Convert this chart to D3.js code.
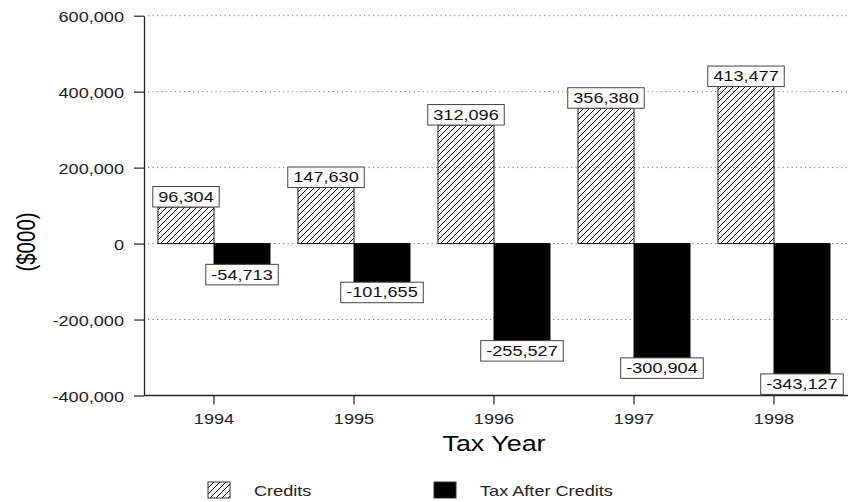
<!DOCTYPE html>
<html>
<head>
<meta charset="utf-8">
<script src="https://cdn.jsdelivr.net/npm/d3@7"></script>
<style>
  html, body { margin: 0; padding: 0; background: #fff; }
  svg { display: block; font-family: "Liberation Sans", Arial, sans-serif; }
</style>
</head>
<body>
<svg id="chart" width="848" height="502"></svg>
<script>
// ---- data ----
const years = ["1994", "1995", "1996", "1997", "1998"];
const credits = [96304, 147630, 312096, 356380, 413477];
const taxAfterCredits = [-54713, -101655, -255527, -300904, -343127];
const seriesNames = ["Credits", "Tax After Credits"];
const yTicks = [-400000, -200000, 0, 200000, 400000, 600000];
const xTitle = "Tax Year";
const yTitle = "($000)";

// ---- setup ----
const svg = d3.select("#chart");
const SX = 1.25; // horizontal text stretch of the original
const locale = d3.formatLocale({decimal: ".", thousands: ",", grouping: [3], currency: ["$", ""], minus: "-"});
const fmt = locale.format(",");

const left = 144, right = 844, gridRight = 848;
const x = d3.scaleBand().domain(years).range([left, right]).paddingInner(0.2).paddingOuter(0.1);
const x1 = d3.scaleBand().domain(seriesNames).range([0, x.bandwidth()]);
const y = d3.scaleLinear().domain([-400000, 600000]).range([395.5, 15.7]);

// hatch pattern
const defs = svg.append("defs");
const pat = defs.append("pattern").attr("id", "hatch").attr("patternUnits", "userSpaceOnUse")
  .attr("width", 6).attr("height", 6);
pat.append("path").attr("d", "M0,6 L6,0 M-1.5,1.5 L1.5,-1.5 M4.5,7.5 L7.5,4.5")
  .attr("stroke", "#000").attr("stroke-width", 1).attr("fill", "none");

// gridlines
svg.append("g").selectAll("line").data(yTicks.filter(d => d !== -400000)).join("line")
  .attr("x1", left + 4).attr("x2", gridRight)
  .attr("y1", d => y(d)).attr("y2", d => y(d))
  .attr("stroke", "#777").attr("stroke-width", 1).attr("stroke-dasharray", "1.2,3.3");

// bars
const rows = years.map((yr, i) => ({year: yr, values: [
  {key: seriesNames[0], v: credits[i]},
  {key: seriesNames[1], v: taxAfterCredits[i]}
]}));

const groups = svg.append("g").selectAll("g").data(rows).join("g")
  .attr("transform", d => `translate(${x(d.year)},0)`);

groups.selectAll("rect").data(d => d.values).join("rect")
  .attr("x", d => x1(d.key))
  .attr("width", x1.bandwidth())
  .attr("y", d => y(Math.max(0, d.v)))
  .attr("height", d => Math.abs(y(d.v) - y(0)))
  .attr("fill", d => d.key === seriesNames[0] ? "url(#hatch)" : "#000")
  .attr("stroke", d => d.key === seriesNames[0] ? "#111" : "#000")
  .attr("stroke-width", 1);

// axes
const yAxis = d3.axisLeft(y).tickValues(yTicks).tickFormat(fmt).tickSize(10).tickSizeOuter(0);
const gy = svg.append("g").attr("transform", `translate(${left},0)`).call(yAxis);
gy.select(".domain").attr("stroke", "#222").attr("stroke-width", 1.3);
gy.selectAll(".tick line").attr("stroke", "#222").attr("stroke-width", 1.2);
gy.selectAll(".tick text")
  .attr("x", null).attr("dy", null)
  .attr("transform", `translate(-20,5.5) scale(${SX},1)`)
  .attr("font-size", "14.5px").attr("fill", "#222")
  .attr("font-family", "Liberation Sans, Arial, sans-serif").attr("text-anchor", "end");

const xAxis = d3.axisBottom(x).tickSize(9).tickSizeOuter(0);
const gx = svg.append("g").attr("transform", `translate(0,${y(-400000)})`).call(xAxis);
gx.select(".domain").remove();
gx.append("line").attr("x1", left).attr("x2", gridRight).attr("y1", 0).attr("y2", 0)
  .attr("stroke", "#222").attr("stroke-width", 1.3);
gx.selectAll(".tick line").attr("stroke", "#222").attr("stroke-width", 1.2);
gx.selectAll(".tick text")
  .attr("y", null).attr("dy", null)
  .attr("transform", `translate(0,28.5) scale(${SX},1)`)
  .attr("font-size", "14.5px").attr("fill", "#222")
  .attr("font-family", "Liberation Sans, Arial, sans-serif");

// value labels
const labelData = [];
rows.forEach(r => r.values.forEach(v => labelData.push({year: r.year, key: v.key, v: v.v})));
const labels = svg.append("g").selectAll("g").data(labelData).join("g")
  .attr("transform", d => {
    const cx = x(d.year) + x1(d.key) + x1.bandwidth() / 2;
    return `translate(${cx},${y(d.v)})`;
  });
labels.each(function(d) {
  const g = d3.select(this);
  const h = 20.5;
  const top = d.v >= 0 ? -h : 0;
  const rect = g.append("rect").attr("y", top).attr("height", h)
    .attr("fill", "#fff").attr("stroke", "#444").attr("stroke-width", 1);
  const t = g.append("text").text(fmt(d.v))
    .attr("text-anchor", "middle")
    .attr("transform", `translate(0,${top + 15.3}) scale(${SX},1)`)
    .attr("font-size", "14.5px").attr("fill", "#111");
  const w = t.node().getComputedTextLength() * SX + 11;
  rect.attr("x", -w / 2).attr("width", w);
});

// axis titles
svg.append("text").text(xTitle)
  .attr("text-anchor", "middle")
  .attr("transform", `translate(${(left + right) / 2},451) scale(${SX},1)`)
  .attr("font-size", "21.5px").attr("fill", "#000");

svg.append("text").text(yTitle)
  .attr("text-anchor", "middle")
  .attr("transform", `translate(35,242) scale(${SX},1) rotate(-90)`)
  .attr("font-size", "20.5px").attr("fill", "#000");

// legend
const legendX = [208, 434];
const legend = svg.append("g").selectAll("g").data(seriesNames).join("g")
  .attr("transform", (d, i) => `translate(${legendX[i]},482)`);
legend.append("rect").attr("width", 22).attr("height", 16)
  .attr("fill", (d, i) => i === 0 ? "url(#hatch)" : "#000")
  .attr("stroke", "#333").attr("stroke-width", 1);
legend.append("text").text(d => d)
  .attr("transform", `translate(46,14) scale(${SX},1)`)
  .attr("font-size", "14.5px").attr("fill", "#222");
</script>
</body>
</html>
